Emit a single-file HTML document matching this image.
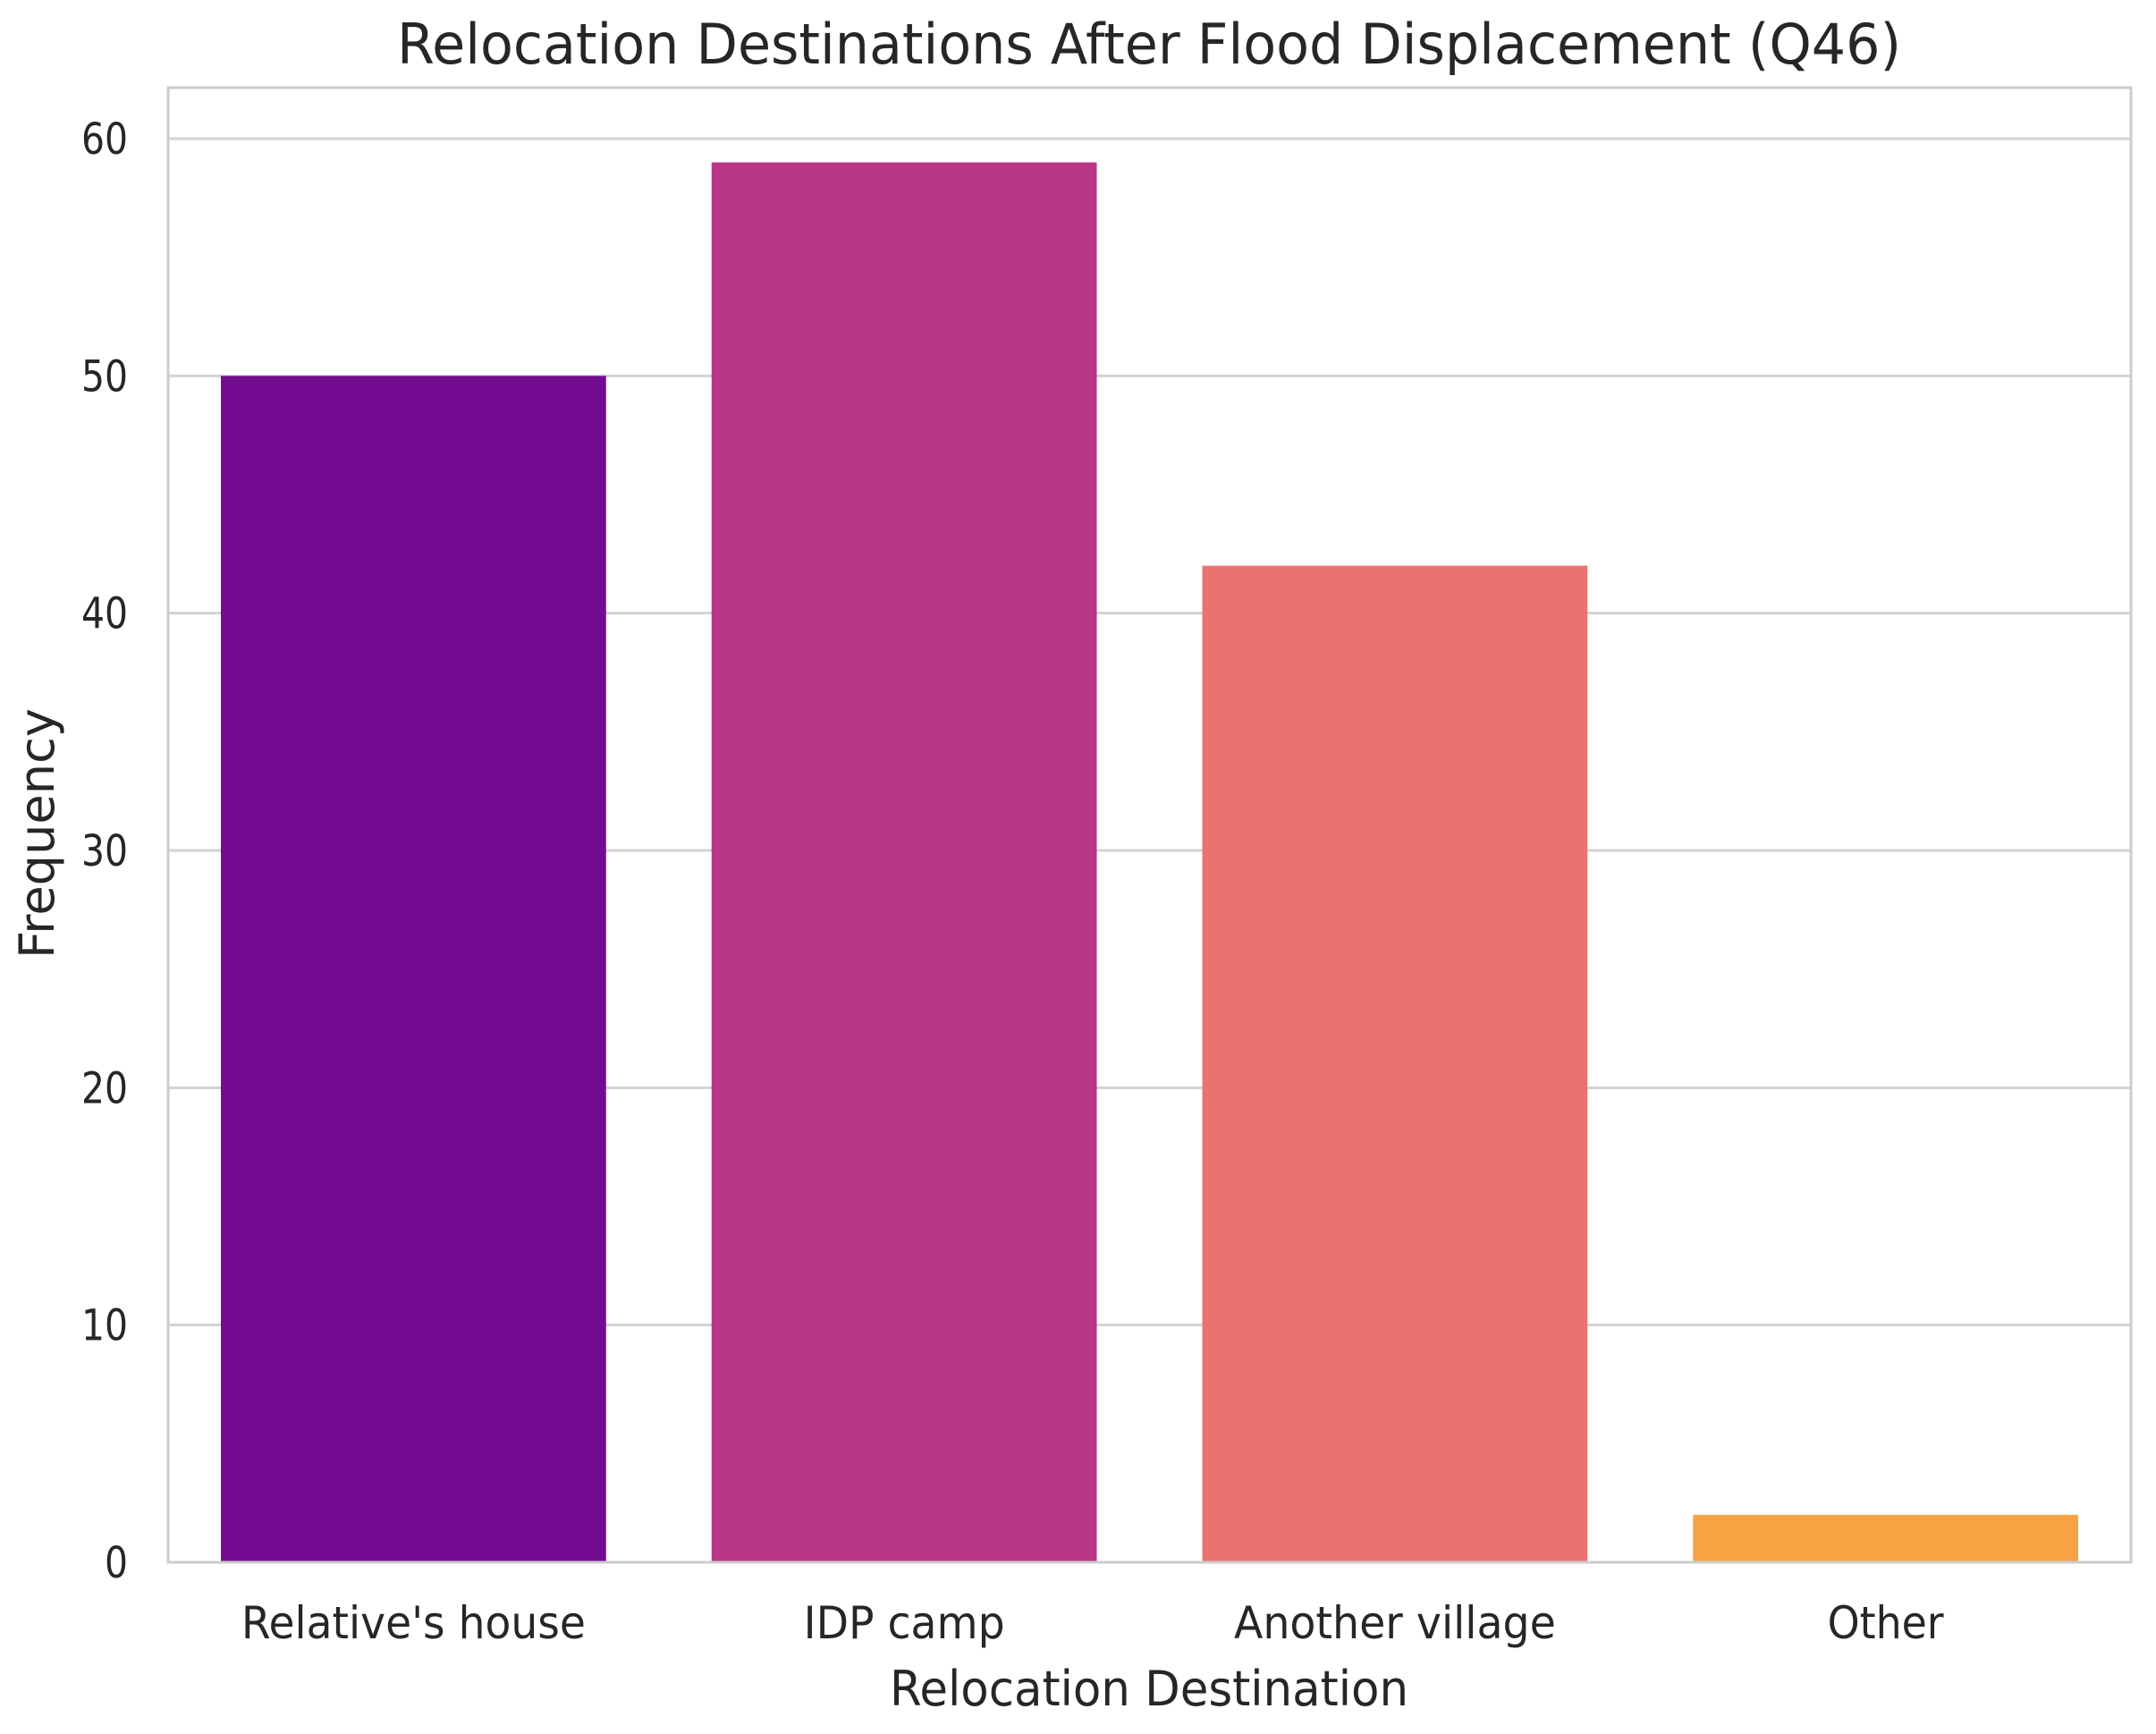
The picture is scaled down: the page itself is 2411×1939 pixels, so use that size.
<!DOCTYPE html>
<html><head><meta charset="utf-8"><style>
html,body{margin:0;padding:0;background:#fff}
svg{display:block}
text{font-family:"DejaVu Sans","Liberation Sans",sans-serif;fill:#262626}
</style></head><body>
<svg id="chart" width="2411" height="1939" viewBox="0 0 2411 1939" xmlns="http://www.w3.org/2000/svg">
<text x="1285" y="71" font-size="62" text-anchor="middle" textLength="1682" lengthAdjust="spacingAndGlyphs">Relocation Destinations After Flood Displacement (Q46)</text>
<g id="grid"></g>
<g id="bars"></g>
<rect x="188" y="98" width="2195" height="1649" fill="none" stroke="#cccccc" stroke-width="3"/>
<g id="yticks"></g>
<g id="xticks"></g>
<text x="1285" y="1907" font-size="54" text-anchor="middle" textLength="580" lengthAdjust="spacingAndGlyphs">Relocation Destination</text>
<text transform="translate(60,932) rotate(-90)" font-size="54" text-anchor="middle" textLength="280" lengthAdjust="spacingAndGlyphs">Frequency</text>
</svg>
<script>
const categories = ["Relative's house", "IDP camp", "Another village", "Other"];
const values = [50, 59, 42, 2];
const colors = ["#730c91", "#b93688", "#ea7371", "#f7a343"];
const yTicks = [0, 10, 20, 30, 40, 50, 60];
const labelWidths = [385, 225, 360, 130];

const NS = "http://www.w3.org/2000/svg";
const left = 188, right = 2383, bottom = 1747, top60 = 155;
const yMin = 0, yMax = 60;
function y(v){ return bottom - (v - yMin) / (yMax - yMin) * (bottom - top60); }
const band = (right - left) / categories.length;
function x(i){ return left + band * i + band / 2; }

const grid = document.getElementById('grid');
const yt = document.getElementById('yticks');
yTicks.forEach(t => {
  const l = document.createElementNS(NS, 'line');
  
  
  l.setAttribute('x1', left); l.setAttribute('x2', right);
  l.setAttribute('y1', y(t)); l.setAttribute('y2', y(t));
  l.setAttribute('stroke', '#d3d3d3'); l.setAttribute('stroke-width', '3');
  grid.appendChild(l);
  const tx = document.createElementNS(NS, 'text');
  
  
  tx.setAttribute('x', 143); tx.setAttribute('y', y(t) + 17);
  tx.setAttribute('font-size', '48'); tx.setAttribute('text-anchor', 'end');
  tx.setAttribute('textLength', String(t).length * 26);
  tx.setAttribute('lengthAdjust', 'spacingAndGlyphs');
  tx.textContent = t;
  yt.appendChild(tx);
});

const bars = document.getElementById('bars');
const xt = document.getElementById('xticks');
const bw = band * 0.785;
categories.forEach((c, i) => {
  const r = document.createElementNS(NS, 'rect');
  
  
  r.setAttribute('x', x(i) - bw / 2); r.setAttribute('width', bw);
  r.setAttribute('y', y(values[i])); r.setAttribute('height', y(0) - y(values[i]));
  r.setAttribute('fill', colors[i]);
  bars.appendChild(r);
  const tx = document.createElementNS(NS, 'text');
  
  
  tx.setAttribute('x', x(i)); tx.setAttribute('y', 1832);
  tx.setAttribute('font-size', '50'); tx.setAttribute('text-anchor', 'middle');
  tx.setAttribute('textLength', labelWidths[i]);
  tx.setAttribute('lengthAdjust', 'spacingAndGlyphs');
  tx.textContent = c;
  xt.appendChild(tx);
});
</script>
</body></html>
